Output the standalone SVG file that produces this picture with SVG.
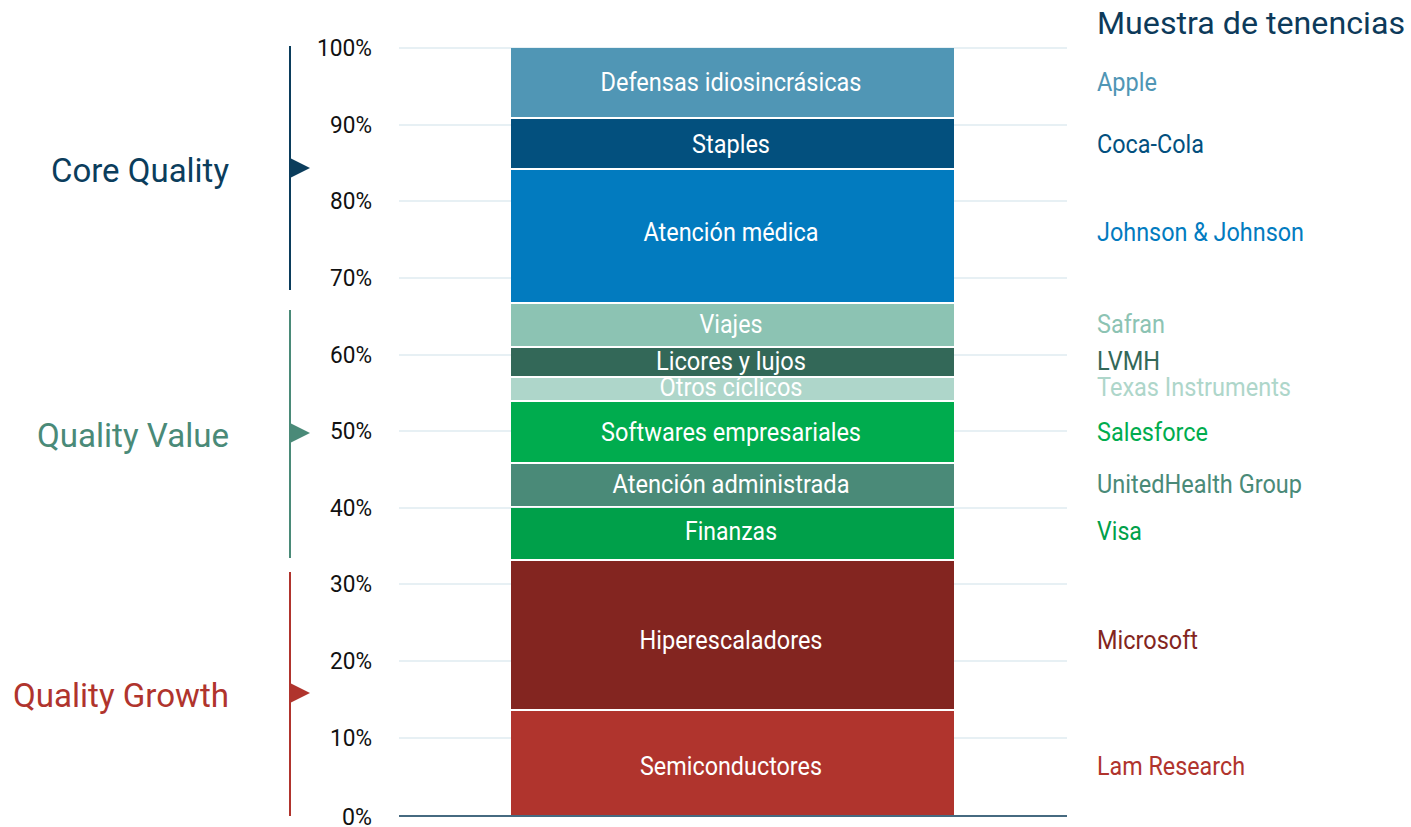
<svg xmlns="http://www.w3.org/2000/svg" width="1411" height="827" viewBox="0 0 1411 827">
<style>
.grid{stroke:#cfe1ea;stroke-width:1.2}
.ax{font-family:Roboto,"Liberation Sans",sans-serif;font-size:24px;fill:#111;text-anchor:end}
.seg{font-family:Roboto,"Liberation Sans",sans-serif;font-size:26px;fill:#fff;text-anchor:middle}
.hold{font-family:Roboto,"Liberation Sans",sans-serif;font-size:26px}
.grp{font-family:Roboto,"Liberation Sans",sans-serif;font-size:34px;text-anchor:end}
</style>
<rect width="1411" height="827" fill="#fff"/>
<g id="gridlines">
<line class="grid" x1="399" y1="48" x2="1067" y2="48"/>
<line class="grid" x1="399" y1="125" x2="1067" y2="125"/>
<line class="grid" x1="399" y1="201" x2="1067" y2="201"/>
<line class="grid" x1="399" y1="278" x2="1067" y2="278"/>
<line class="grid" x1="399" y1="355" x2="1067" y2="355"/>
<line class="grid" x1="399" y1="431" x2="1067" y2="431"/>
<line class="grid" x1="399" y1="508" x2="1067" y2="508"/>
<line class="grid" x1="399" y1="584" x2="1067" y2="584"/>
<line class="grid" x1="399" y1="661" x2="1067" y2="661"/>
<line class="grid" x1="399" y1="738" x2="1067" y2="738"/>
</g>
<g id="axis-labels">
<text class="ax" x="372" y="56" textLength="55" lengthAdjust="spacingAndGlyphs">100%</text>
<text class="ax" x="372" y="133" textLength="42" lengthAdjust="spacingAndGlyphs">90%</text>
<text class="ax" x="372" y="209" textLength="42" lengthAdjust="spacingAndGlyphs">80%</text>
<text class="ax" x="372" y="286" textLength="42" lengthAdjust="spacingAndGlyphs">70%</text>
<text class="ax" x="372" y="363" textLength="42" lengthAdjust="spacingAndGlyphs">60%</text>
<text class="ax" x="372" y="439" textLength="42" lengthAdjust="spacingAndGlyphs">50%</text>
<text class="ax" x="372" y="516" textLength="42" lengthAdjust="spacingAndGlyphs">40%</text>
<text class="ax" x="372" y="592" textLength="42" lengthAdjust="spacingAndGlyphs">30%</text>
<text class="ax" x="372" y="669" textLength="42" lengthAdjust="spacingAndGlyphs">20%</text>
<text class="ax" x="372" y="746" textLength="42" lengthAdjust="spacingAndGlyphs">10%</text>
<text class="ax" x="372" y="825" textLength="30" lengthAdjust="spacingAndGlyphs">0%</text>
</g>
<g id="bar">
<g id="seg-defensas"><rect x="511" y="48" width="443" height="69" fill="#5096b5"/><text class="seg" x="731" y="91" textLength="261" lengthAdjust="spacingAndGlyphs">Defensas idiosincrásicas</text></g>
<g id="seg-staples"><rect x="511" y="119" width="443" height="49" fill="#03507e"/><text class="seg" x="731" y="153" textLength="78" lengthAdjust="spacingAndGlyphs">Staples</text></g>
<g id="seg-atencion-medica"><rect x="511" y="170" width="443" height="132" fill="#027bbf"/><text class="seg" x="731" y="241" textLength="175" lengthAdjust="spacingAndGlyphs">Atención médica</text></g>
<g id="seg-viajes"><rect x="511" y="304" width="443" height="42" fill="#8cc3b3"/><text class="seg" x="731" y="333" textLength="63" lengthAdjust="spacingAndGlyphs">Viajes</text></g>
<g id="seg-licores"><rect x="511" y="348" width="443" height="28" fill="#336858"/><text class="seg" x="731" y="370" textLength="150" lengthAdjust="spacingAndGlyphs">Licores y lujos</text></g>
<g id="seg-otros"><rect x="511" y="378" width="443" height="22" fill="#aed6ca"/><text class="seg" x="731" y="396" textLength="143" lengthAdjust="spacingAndGlyphs">Otros cíclicos</text></g>
<g id="seg-softwares"><rect x="511" y="402" width="443" height="60" fill="#00ac4e"/><text class="seg" x="731" y="441" textLength="260" lengthAdjust="spacingAndGlyphs">Softwares empresariales</text></g>
<g id="seg-administrada"><rect x="511" y="464" width="443" height="42" fill="#4a8a78"/><text class="seg" x="731" y="493" textLength="237" lengthAdjust="spacingAndGlyphs">Atención administrada</text></g>
<g id="seg-finanzas"><rect x="511" y="508" width="443" height="51" fill="#00a04a"/><text class="seg" x="731" y="540" textLength="92" lengthAdjust="spacingAndGlyphs">Finanzas</text></g>
<g id="seg-hiper"><rect x="511" y="561" width="443" height="148" fill="#832520"/><text class="seg" x="731" y="649" textLength="183" lengthAdjust="spacingAndGlyphs">Hiperescaladores</text></g>
<g id="seg-semi"><rect x="511" y="711" width="443" height="104" fill="#b0342d"/><text class="seg" x="731" y="775" textLength="182" lengthAdjust="spacingAndGlyphs">Semiconductores</text></g>
</g>
<line id="baseline" x1="399" y1="816" x2="1067" y2="816" stroke="#466a80" stroke-width="2"/>
<g id="holdings">
<text x="1097" y="34" font-family="Roboto,'Liberation Sans',sans-serif" font-size="31" fill="#0d3a5a" textLength="308" lengthAdjust="spacingAndGlyphs">Muestra de tenencias</text>
<text class="hold" x="1097" y="91" fill="#5096b5" textLength="60" lengthAdjust="spacingAndGlyphs">Apple</text>
<text class="hold" x="1097" y="153" fill="#03507e" textLength="107" lengthAdjust="spacingAndGlyphs">Coca-Cola</text>
<text class="hold" x="1097" y="241" fill="#027bbf" textLength="207" lengthAdjust="spacingAndGlyphs">Johnson &amp; Johnson</text>
<text class="hold" x="1097" y="333" fill="#8cc3b3" textLength="68" lengthAdjust="spacingAndGlyphs">Safran</text>
<text class="hold" x="1097" y="370" fill="#336858" textLength="63" lengthAdjust="spacingAndGlyphs">LVMH</text>
<text class="hold" x="1097" y="396" fill="#aed6ca" textLength="194" lengthAdjust="spacingAndGlyphs">Texas Instruments</text>
<text class="hold" x="1097" y="441" fill="#00ac4e" textLength="111" lengthAdjust="spacingAndGlyphs">Salesforce</text>
<text class="hold" x="1097" y="493" fill="#4a8a78" textLength="205" lengthAdjust="spacingAndGlyphs">UnitedHealth Group</text>
<text class="hold" x="1097" y="540" fill="#00a04a" textLength="45" lengthAdjust="spacingAndGlyphs">Visa</text>
<text class="hold" x="1097" y="649" fill="#832520" textLength="101" lengthAdjust="spacingAndGlyphs">Microsoft</text>
<text class="hold" x="1097" y="775" fill="#b0342d" textLength="148" lengthAdjust="spacingAndGlyphs">Lam Research</text>
</g>
<g id="group-core">
<line x1="290" y1="46" x2="290" y2="290" stroke="#0b3d5c" stroke-width="2"/>
<polygon points="290,158 310,168 290,178" fill="#0b3d5c"/>
<text class="grp" x="229" y="182" fill="#0b3d5c" textLength="178" lengthAdjust="spacingAndGlyphs">Core Quality</text>
</g>
<g id="group-value">
<line x1="290" y1="310" x2="290" y2="558" stroke="#4a8a78" stroke-width="2"/>
<polygon points="290,423 310,433 290,443" fill="#4a8a78"/>
<text class="grp" x="229" y="447" fill="#4a8a78" textLength="192" lengthAdjust="spacingAndGlyphs">Quality Value</text>
</g>
<g id="group-growth">
<line x1="290" y1="572" x2="290" y2="816" stroke="#b0342d" stroke-width="2"/>
<polygon points="290,683 310,693 290,703" fill="#b0342d"/>
<text class="grp" x="229" y="707" fill="#b0342d" textLength="216" lengthAdjust="spacingAndGlyphs">Quality Growth</text>
</g>
</svg>
